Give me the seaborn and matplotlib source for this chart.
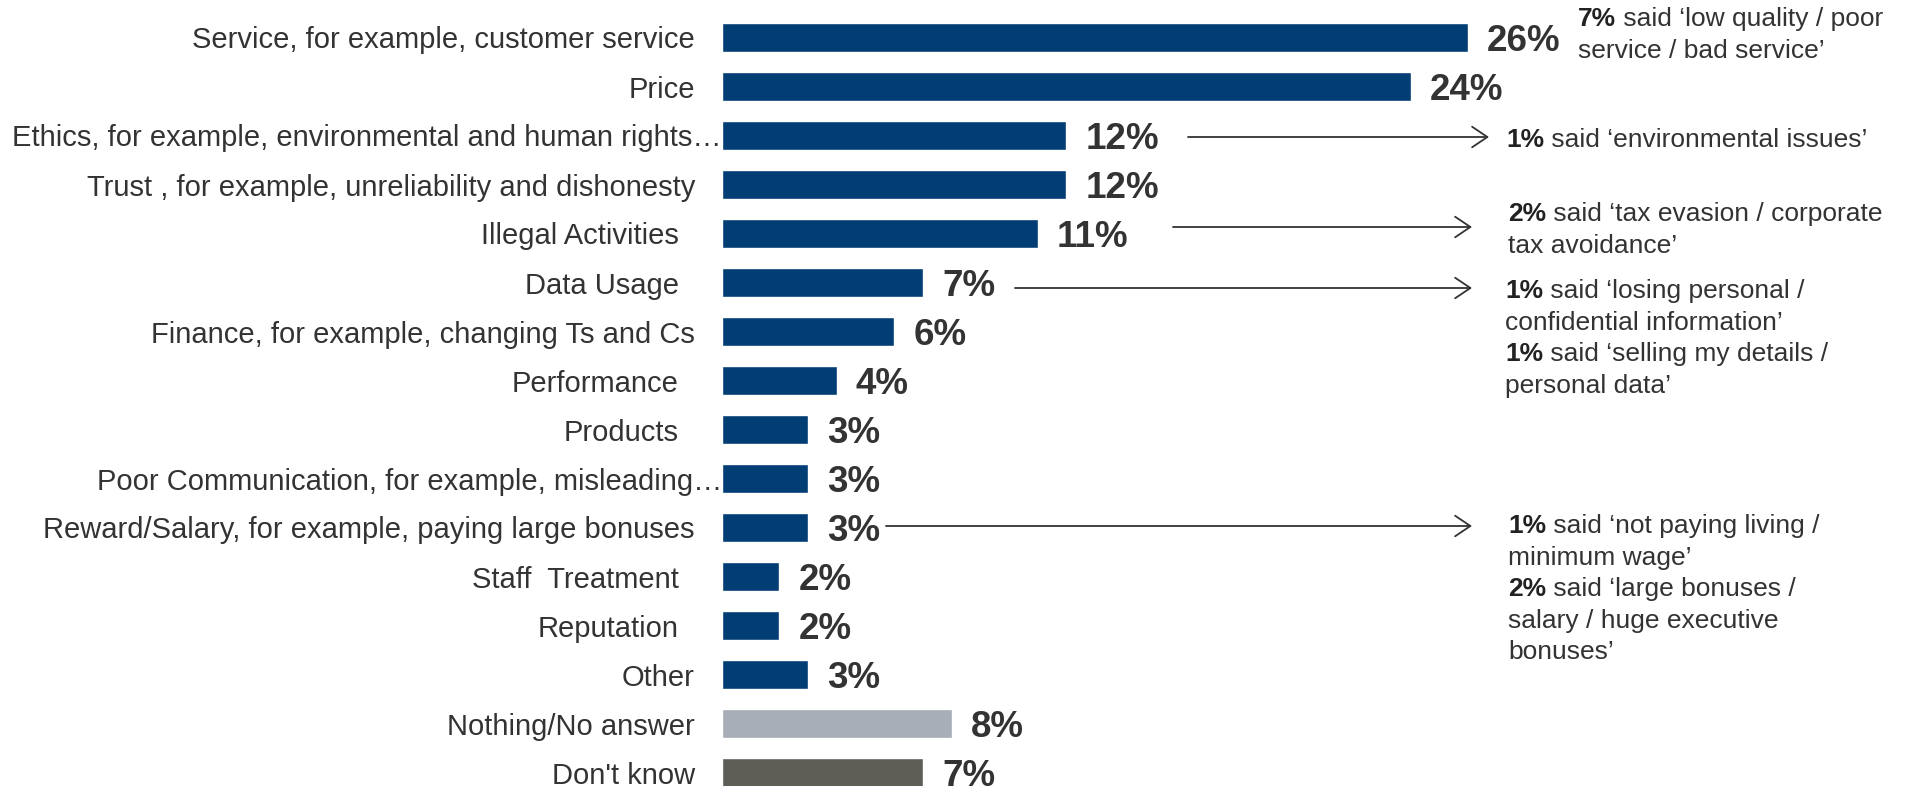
import matplotlib
matplotlib.use("Agg")
import matplotlib.pyplot as plt
from matplotlib import font_manager, transforms
import seaborn as sns
import pandas as pd

# ---- data -------------------------------------------------------------
categories = [
    "Service, for example, customer service",
    "Price",
    "Ethics, for example, environmental and human rights…",
    "Trust , for example, unreliability and dishonesty",
    "Illegal Activities  ",
    "Data Usage  ",
    "Finance, for example, changing Ts and Cs",
    "Performance  ",
    "Products  ",
    "Poor Communication, for example, misleading…",
    "Reward/Salary, for example, paying large bonuses",
    "Staff  Treatment  ",
    "Reputation  ",
    "Other",
    "Nothing/No answer",
    "Don't know",
]
values = [26, 24, 12, 12, 11, 7, 6, 4, 3, 3, 3, 2, 2, 3, 8, 7]
groups = ["reason"] * 14 + ["nothing", "dont_know"]

# verbatim breakdowns: (bold share, rest of line)
note_service = [("7%", " said ‘low quality / poor"), ("", "service / bad service’")]
note_ethics = [("1%", " said ‘environmental issues’")]
note_illegal = [("2%", " said ‘tax evasion / corporate"), ("", "tax avoidance’")]
note_data = [("1%", " said ‘losing personal /"), ("", "confidential information’"),
             ("1%", " said ‘selling my details /"), ("", "personal data’")]
note_reward = [("1%", " said ‘not paying living /"), ("", "minimum wage’"),
               ("2%", " said ‘large bonuses /"), ("", "salary / huge executive"),
               ("", "bonuses’")]

# ---- style ------------------------------------------------------------
palette = {"reason": "#023E73", "nothing": "#A7AEB7", "dont_know": "#5E5E57"}
text_color = "#333333"

sns.set_theme(style="white")
installed = {f.name for f in font_manager.fontManager.ttflist}
if "Liberation Sans Narrow" in installed:
    label_family, label_size = "Liberation Sans Narrow", 25.5
else:
    label_family, label_size = "Liberation Sans", 21
plt.rcParams["font.family"] = ["Liberation Sans", "DejaVu Sans"]

DPI = 100
W, H = 1906, 786
fig = plt.figure(figsize=(W / DPI, H / DPI), dpi=DPI)

# plot area: bars start at x=722 px, 28.7 px per percentage point, 49 px per row
x0_px, px_per_pct = 722, 28.7
row_px, first_row_px = 49.0, 37.5
ax = fig.add_axes([x0_px / W, 0, (W - x0_px) / W, 1])

df = pd.DataFrame({"category": categories, "value": values, "group": groups})
sns.barplot(data=df, x="value", y="category", hue="group", palette=palette,
            dodge=False, width=0.6, legend=False, ax=ax, saturation=1,
            order=categories, hue_order=list(palette))

ax.set_xlim(0, (W - x0_px) / px_per_pct)
ax.set_ylim((H - first_row_px) / row_px, -first_row_px / row_px)
ax.set_xticks([])
ax.set_yticks(range(len(categories)))
ax.set_yticklabels([])
ax.tick_params(axis="y", length=0)
ax.set_xlabel("")
ax.set_ylabel("")
for s in ax.spines.values():
    s.set_visible(False)

# ---- category labels ----------------------------------------------------
renderer = fig.canvas.get_renderer()
lab_prop = font_manager.FontProperties(family=label_family, size=label_size)
w_with, _, _ = renderer.get_text_width_height_descent("a  a", lab_prop, ismath=False)
w_without, _, _ = renderer.get_text_width_height_descent("aa", lab_prop, ismath=False)
space_px = (w_with - w_without) / 2
label_gap_px = 27
for i, cat in enumerate(categories):
    text = cat.rstrip()
    trailing = len(cat) - len(text)
    if text.endswith("…"):
        shift = 0  # truncated labels run right up to the bar
    else:
        shift = label_gap_px + trailing * space_px
    tr = transforms.offset_copy(ax.get_yaxis_transform(), fig=fig, x=-shift, units="dots")
    ax.text(0, i, text, transform=tr, ha="right", va="center_baseline",
            fontproperties=lab_prop, color=text_color)

# ---- value labels -------------------------------------------------------
for i, v in enumerate(values):
    ax.annotate(f"{v}%", xy=(v, i), xytext=(19 * 72 / DPI, 0),
                textcoords="offset points", ha="left", va="center_baseline",
                fontsize=26.5, fontweight="bold", color=text_color)

# ---- arrows to the verbatim notes --------------------------------------
def px_to_x(px):
    return (px - x0_px) / px_per_pct

def px_to_row(py):
    return (py - first_row_px) / row_px

arrow_style = "->,head_length=0.55,head_width=0.37"
for start_px, end_px, y_px in [(1188, 1489, 137), (1173, 1472, 227),
                               (1015, 1472, 288), (886, 1472, 526)]:
    ax.annotate("", xy=(px_to_x(end_px), px_to_row(y_px)),
                xytext=(px_to_x(start_px), px_to_row(y_px)),
                arrowprops=dict(arrowstyle=arrow_style, color=text_color, lw=1.3,
                                shrinkA=0, shrinkB=0, mutation_scale=20))

# ---- verbatim notes ------------------------------------------------------
note_size = 19
line_step_px = 31.6

def draw_note(lines, left_px, first_baseline_px):
    for k, (bold, rest) in enumerate(lines):
        y = px_to_row(first_baseline_px + k * line_step_px)
        x = px_to_x(left_px)
        if bold:
            t = ax.text(x, y, bold, fontsize=note_size, fontweight="bold",
                        color="#222222", ha="left", va="baseline")
            ax.annotate(rest, xy=(1, 0), xycoords=t, ha="left", va="bottom",
                        fontsize=note_size, color=text_color)
        else:
            ax.text(x, y, rest, fontsize=note_size, color=text_color,
                    ha="left", va="baseline")

draw_note(note_service, 1578, 26)
draw_note(note_ethics, 1506, 147)
draw_note(note_illegal, 1508, 221)
draw_note(note_data, 1505, 298)
draw_note(note_reward, 1508, 533)

fig.savefig("out.png", dpi=DPI)
